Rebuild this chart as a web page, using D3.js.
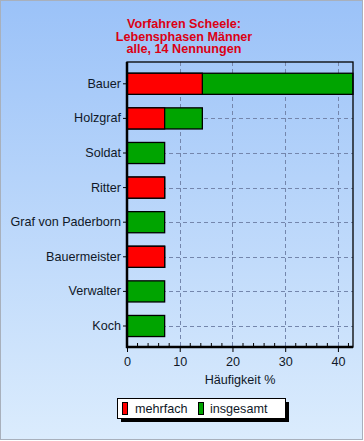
<!DOCTYPE html>
<html><head><meta charset="utf-8">
<script src="https://cdn.jsdelivr.net/npm/d3@7"></script>
<style>body{margin:0;background:#fff}svg{display:block}</style>
</head><body>
<script>
const categories = ["Bauer","Holzgraf","Soldat","Ritter","Graf von Paderborn","Bauermeister","Verwalter","Koch"];
const insgesamt = [42.86,14.29,7.14,7.14,7.14,7.14,7.14,7.14];
const mehrfach = [14.29,7.14,0,7.14,0,7.14,0,0];
const xTicks = [0,10,20,30,40];
const titleLines = ["Vorfahren Scheele:","Lebensphasen Männer","alle, 14 Nennungen"];
const seriesNames = ["mehrfach","insgesamt"];
const colors = {mehrfach:"#ff0000", insgesamt:"#00a400"};

const W=364,H=441;
const FONT="Arial, Liberation Sans, sans-serif";
const svg=d3.select("body").append("svg").attr("width",W).attr("height",H);
const defs=svg.append("defs");
const g=defs.append("linearGradient").attr("id","bg").attr("x1",0).attr("y1",0).attr("x2",0).attr("y2",1);
g.append("stop").attr("offset","0%").attr("stop-color","#9bc2f8");
g.append("stop").attr("offset","100%").attr("stop-color","#dbecfd");
svg.append("rect").attr("x",0.5).attr("y",0.5).attr("width",W-2).attr("height",H-2).attr("fill","url(#bg)").attr("stroke","#a8b0bc");

const L=127,R=353,T=62,B=347;
const x=d3.scaleLinear().domain([0,42.86]).range([L,R]);
const y=d3.scaleBand().domain(categories).range([66.5,343.3]).paddingInner(0.39).paddingOuter(0.195);

// title
svg.append("text").attr("x",184).attr("y",28).attr("text-anchor","middle")
 .attr("font-family",FONT).attr("font-size",12.6).attr("font-weight","bold").attr("fill","#dc0014")
 .selectAll("tspan").data(titleLines).join("tspan").attr("x",184).attr("dy",(d,i)=>i?12.6:0).text(d=>d);

// grid
const grid=svg.append("g").attr("stroke","#7486ac").attr("stroke-dasharray","4,3").attr("stroke-width",1);
grid.selectAll(".v").data(xTicks.filter(d=>d>0)).join("line").attr("x1",d=>Math.round(x(d))+0.5).attr("x2",d=>Math.round(x(d))+0.5).attr("y1",T).attr("y2",B);
grid.selectAll(".h").data(categories).join("line").attr("x1",L).attr("x2",R).attr("y1",d=>Math.round(y(d)+y.bandwidth()/2)+0.5).attr("y2",d=>Math.round(y(d)+y.bandwidth()/2)+0.5);

// bars: insgesamt drawn first, mehrfach over it
svg.append("g").selectAll("rect").data(categories).join("rect")
 .attr("x",x(0)).attr("y",d=>y(d)).attr("width",(d,i)=>x(insgesamt[i])-x(0)).attr("height",y.bandwidth())
 .attr("fill",colors.insgesamt).attr("stroke","#000").attr("stroke-width",1.3);
svg.append("g").selectAll("rect").data(categories.filter((d,i)=>mehrfach[i]>0)).join("rect")
 .attr("x",x(0)).attr("y",d=>y(d)).attr("width",d=>x(mehrfach[categories.indexOf(d)])-x(0)).attr("height",y.bandwidth())
 .attr("fill",colors.mehrfach).attr("stroke","#000").attr("stroke-width",1.3);

// plot frame
svg.append("rect").attr("x",L).attr("y",T).attr("width",R-L).attr("height",B-T).attr("fill","none").attr("stroke","#000").attr("stroke-width",1.3);
svg.append("line").attr("x1",L).attr("x2",L).attr("y1",T).attr("y2",B+1).attr("stroke","#000").attr("stroke-width",2.5);
svg.append("line").attr("x1",L-1).attr("x2",R).attr("y1",B).attr("y2",B).attr("stroke","#000").attr("stroke-width",2.5);

// x axis
const xa=svg.append("g").attr("transform",`translate(0,${B})`)
 .call(d3.axisBottom(x).tickValues(xTicks).tickSize(5).tickPadding(5).tickFormat(d3.format("d")));
xa.select(".domain").remove();
xa.selectAll("line").attr("stroke","#000");
xa.selectAll("text").attr("font-family",FONT).attr("font-size",12.6).attr("fill","#101828");
// minor ticks inside
svg.append("g").selectAll("line").data(d3.range(2,43,2).filter(d=>d%10)).join("line")
 .attr("x1",d=>x(d)).attr("x2",d=>x(d)).attr("y1",B-4).attr("y2",B).attr("stroke","#000");
svg.append("text").attr("x",240).attr("y",384).attr("text-anchor","middle")
 .attr("font-family",FONT).attr("font-size",12.6).attr("fill","#101828").text("Häufigkeit %");

// y axis
const ya=svg.append("g").attr("transform",`translate(${L},0)`).call(d3.axisLeft(y).tickSize(4).tickPadding(2));
ya.select(".domain").remove();
ya.selectAll("line").attr("stroke","#000");
ya.selectAll("text").attr("font-family",FONT).attr("font-size",12.6).attr("fill","#101828");

// legend
const lg=svg.append("g");
lg.append("rect").attr("x",121).attr("y",402).attr("width",168).attr("height",20).attr("fill","#000");
lg.append("rect").attr("x",117.5).attr("y",398.5).attr("width",168).attr("height",20).attr("fill","#fff").attr("stroke","#000");
const items=[{n:seriesNames[0],sx:122,tx:135},{n:seriesNames[1],sx:198,tx:210}];
items.forEach(it=>{
  lg.append("rect").attr("x",it.sx+0.5).attr("y",402.5).attr("width",5).attr("height",12).attr("fill",colors[it.n]).attr("stroke","#000");
  lg.append("text").attr("x",it.tx).attr("y",413).attr("font-family",FONT).attr("font-size",12.6).attr("fill","#101828").text(it.n);
});
</script>
</body></html>
